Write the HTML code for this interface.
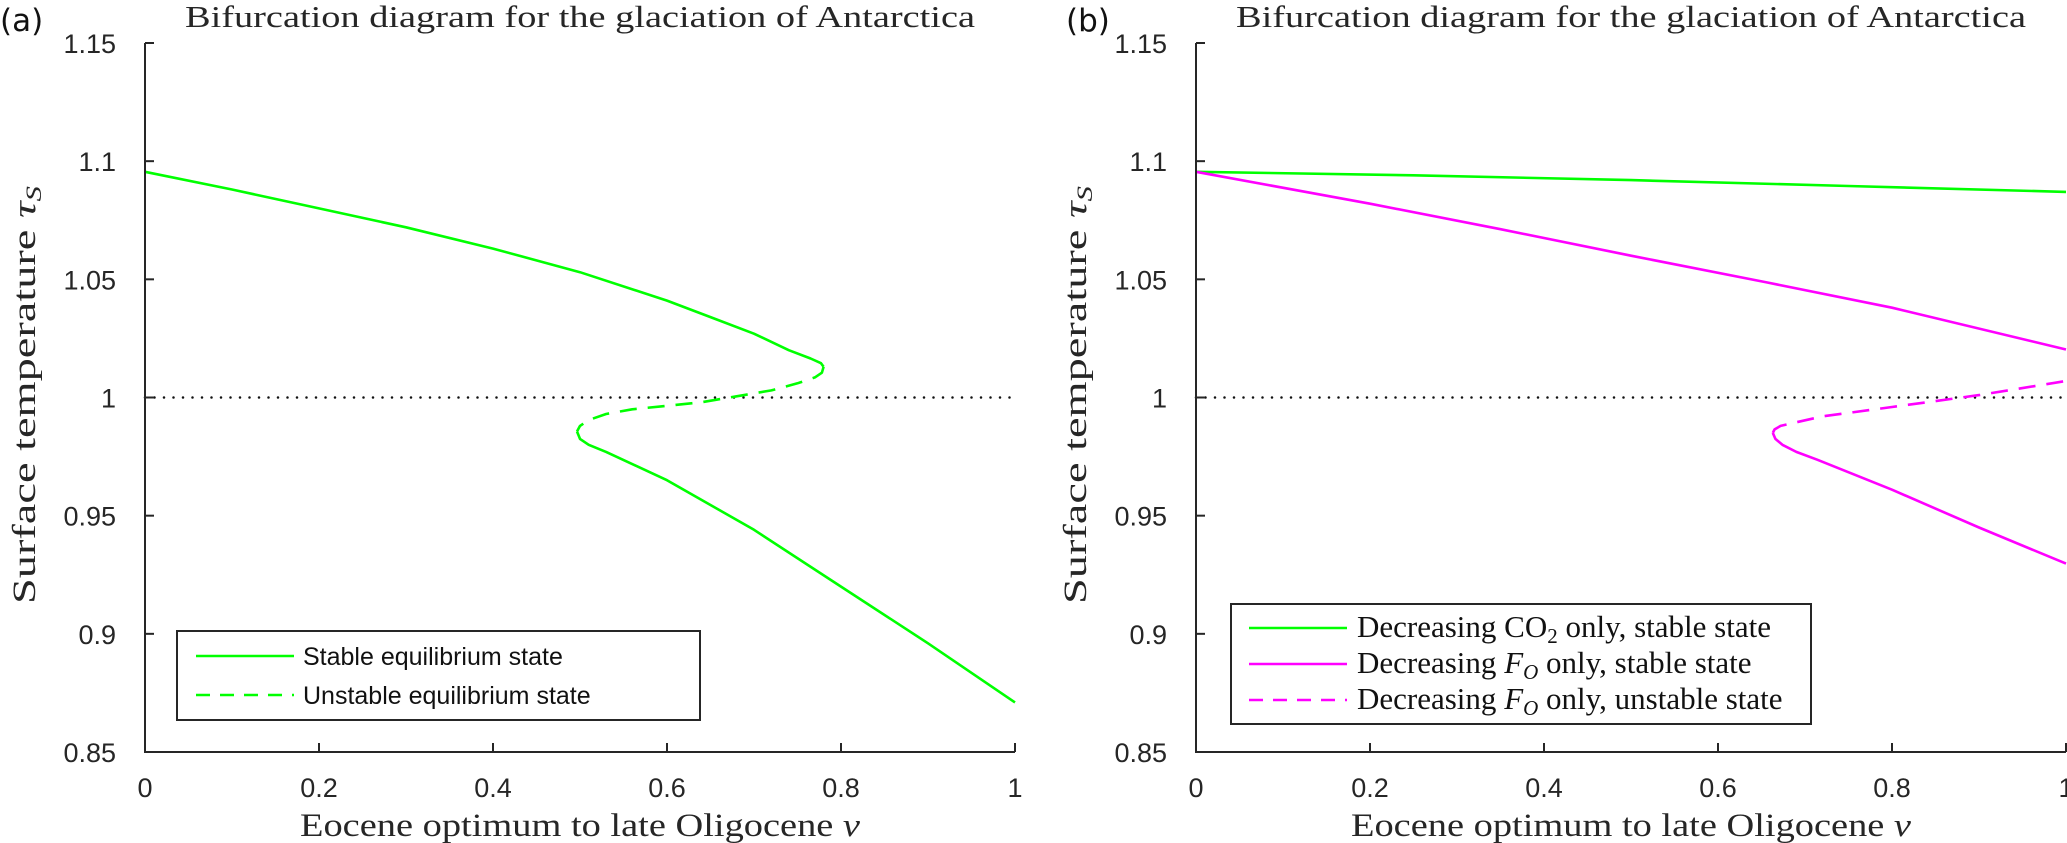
<!DOCTYPE html>
<html><head><meta charset="utf-8">
<style>
html,body{margin:0;padding:0;background:#fff;}
svg{display:block;}
.tick{font-family:"Liberation Sans","DejaVu Sans",sans-serif;font-size:27px;fill:#262626;}
.serif{font-family:"Liberation Serif","DejaVu Serif",serif;fill:#262626;}
</style></head>
<body>
<svg id="chart" width="2067" height="843" viewBox="0 0 2067 843" xmlns="http://www.w3.org/2000/svg">
<text x="0" y="31" font-family="'DejaVu Sans','Liberation Sans',sans-serif" font-size="31" fill="#111">(a)</text>
<text x="1066" y="31" font-family="'DejaVu Sans','Liberation Sans',sans-serif" font-size="31" fill="#111">(b)</text>
<g id="pa"></g>
<g id="pb"></g>
</svg>
<script>
// Panel (a) data
const aStableUpperNu = [0,0.1,0.2,0.3,0.4,0.5,0.6,0.65,0.7,0.74,0.765,0.777,0.78];
const aStableUpperTau = [1.0955,1.088,1.080,1.072,1.063,1.053,1.041,1.034,1.027,1.020,1.0165,1.0145,1.013];
const aUnstableNu = [0.78,0.778,0.77,0.75,0.72,0.68,0.64,0.6,0.56,0.53,0.51,0.5,0.4966];
const aUnstableTau = [1.013,1.0105,1.0085,1.006,1.003,1.0005,0.998,0.9965,0.995,0.993,0.9905,0.988,0.9856];
const aStableLowerNu = [0.4966,0.5,0.51,0.53,0.6,0.7,0.8,0.9,1];
const aStableLowerTau = [0.9856,0.9825,0.9800,0.9770,0.9650,0.9440,0.9200,0.8960,0.871];
// Panel (b) data
const bCO2Nu = [0,0.25,0.5,0.75,1];
const bCO2Tau = [1.0955,1.094,1.092,1.0895,1.087];
const bFoUpperNu = [0,0.2,0.35,0.5,0.656,0.8,1];
const bFoUpperTau = [1.0955,1.082,1.0712,1.060,1.0487,1.038,1.0203];
const bFoUnstableNu = [0.663,0.665,0.672,0.69,0.72,0.8,0.9,1];
const bFoUnstableTau = [0.985,0.9865,0.988,0.9895,0.992,0.996,1.001,1.007];
const bFoLowerNu = [0.663,0.666,0.674,0.69,0.714,0.8,0.9,1];
const bFoLowerTau = [0.985,0.9825,0.980,0.977,0.9737,0.961,0.945,0.9297];
const xTicks = [0,0.2,0.4,0.6,0.8,1];
const xTickLabels = ["0","0.2","0.4","0.6","0.8","1"];
const yTicks = [0.85,0.9,0.95,1,1.05,1.1,1.15];
const yTickLabels = ["0.85","0.9","0.95","1","1.05","1.1","1.15"];
const threshold = 1;

const NS = "http://www.w3.org/2000/svg";
function mk(tag, attrs, parent){const e=document.createElementNS(NS,tag);for(const k in attrs)e.setAttribute(k,attrs[k]);parent.appendChild(e);return e;}

function panel(g, x0, opts){
  const W=870, yTop=43, yBot=752;
  const sx = v => x0 + v*W;
  const sy = v => yBot - (v-0.85)/0.3*(yBot-yTop);
  const th = mk('line',{x1:sx(0),x2:sx(1),y1:sy(threshold),y2:sy(threshold),stroke:'#111','stroke-width':2.5,'stroke-dasharray':'0 9.5','stroke-linecap':'round'},g);
  
  
  opts.series.forEach(s=>{
    const pts = s.nu.map((v,i)=>sx(v).toFixed(1)+','+sy(s.tau[i]).toFixed(1)).join(' ');
    const p = mk('polyline',{points:pts,fill:'none',stroke:s.color,'stroke-width':2.6,'stroke-linejoin':'round'},g);
    if(s.dash) p.setAttribute('stroke-dasharray','17 11');
    
    
  });
  const ax = mk('path',{d:`M${x0} ${yTop} V${yBot} H${x0+W}`,fill:'none',stroke:'#262626','stroke-width':2},g);
  
  
  xTicks.forEach((v,i)=>{
    mk('line',{x1:sx(v),x2:sx(v),y1:yBot,y2:yBot-9,stroke:'#262626','stroke-width':2},g);
    const t = mk('text',{x:sx(v),y:797,'text-anchor':'middle',class:'tick'},g);
    t.textContent = xTickLabels[i];
    
    
  });
  yTicks.forEach((v,i)=>{
    mk('line',{x1:x0,x2:x0+9,y1:sy(v),y2:sy(v),stroke:'#262626','stroke-width':2},g);
    const t = mk('text',{x:x0-29,y:sy(v)+10,'text-anchor':'end',class:'tick'},g);
    t.textContent = yTickLabels[i];
    
    
  });
  const ti = mk('text',{x:x0+W/2,y:27,'text-anchor':'middle',class:'serif','font-size':31,textLength:790,lengthAdjust:'spacingAndGlyphs'},g);
  ti.textContent = 'Bifurcation diagram for the glaciation of Antarctica';
  
  
  const xt = mk('text',{x:x0+W/2,y:836,'text-anchor':'middle',class:'serif','font-size':33,textLength:560,lengthAdjust:'spacingAndGlyphs'},g);
  xt.innerHTML = 'Eocene optimum to late Oligocene <tspan font-style="italic">ν</tspan>';
  
  
  const yt = mk('text',{x:0,y:0,'text-anchor':'middle',class:'serif','font-size':33,textLength:418,lengthAdjust:'spacingAndGlyphs',transform:`translate(${x0-110},395) rotate(-90)`},g);
  yt.innerHTML = 'Surface temperature <tspan font-style="italic">τ</tspan><tspan font-style="italic" font-size="22" dy="6">S</tspan>';
  
  
  const L = opts.legend;
  const lg = mk('g',{},g);
  
  
  mk('rect',{x:L.x,y:L.y,width:L.w,height:L.h,fill:'#fff',stroke:'#262626','stroke-width':2},lg);
  L.items.forEach((it,i)=>{
    const y = L.y0 + i*L.dy;
    const ln = mk('line',{x1:L.lx1,x2:L.lx2,y1:y,y2:y,stroke:it.color,'stroke-width':2.6},lg);
    if(it.dash) ln.setAttribute('stroke-dasharray','14 10');
    const t = mk('text',{x:L.tx,y:y+9,'font-size':L.fs,fill:'#111','font-family':L.font},lg);
    t.innerHTML = it.label;
    
    
  });
}

panel(document.getElementById('pa'),145,{
  series:[
    {nu:aStableUpperNu,tau:aStableUpperTau,color:'#00ff00',name:'stable-upper-branch'},
    {nu:aUnstableNu,tau:aUnstableTau,color:'#00ff00',dash:true,name:'unstable-branch'},
    {nu:aStableLowerNu,tau:aStableLowerTau,color:'#00ff00',name:'stable-lower-branch'}
  ],
  legend:{x:177,y:631,w:523,h:89,y0:656,dy:39,lx1:196,lx2:294,tx:303,fs:25,font:"'Liberation Sans','DejaVu Sans',sans-serif",
    items:[{color:'#00ff00',label:'Stable equilibrium state'},{color:'#00ff00',dash:true,label:'Unstable equilibrium state'}]}
});
panel(document.getElementById('pb'),1196,{
  series:[
    {nu:bCO2Nu,tau:bCO2Tau,color:'#00ff00',name:'co2-stable-branch'},
    {nu:bFoUpperNu,tau:bFoUpperTau,color:'#ff00ff',name:'fo-stable-upper-branch'},
    {nu:bFoUnstableNu,tau:bFoUnstableTau,color:'#ff00ff',dash:true,name:'fo-unstable-branch'},
    {nu:bFoLowerNu,tau:bFoLowerTau,color:'#ff00ff',name:'fo-stable-lower-branch'}
  ],
  legend:{x:1231,y:604,w:580,h:120,y0:628,dy:36,lx1:1249,lx2:1347,tx:1357,fs:31,font:"'Liberation Serif','DejaVu Serif',serif",
    items:[
      {color:'#00ff00',label:'Decreasing CO<tspan font-size="21" dy="6">2</tspan><tspan dy="-6"> only, stable state</tspan>'},
      {color:'#ff00ff',label:'Decreasing <tspan font-style="italic">F</tspan><tspan font-style="italic" font-size="21" dy="6">O</tspan><tspan dy="-6"> only, stable state</tspan>'},
      {color:'#ff00ff',dash:true,label:'Decreasing <tspan font-style="italic">F</tspan><tspan font-style="italic" font-size="21" dy="6">O</tspan><tspan dy="-6"> only, unstable state</tspan>'}
    ]}
});
</script>
</body></html>
